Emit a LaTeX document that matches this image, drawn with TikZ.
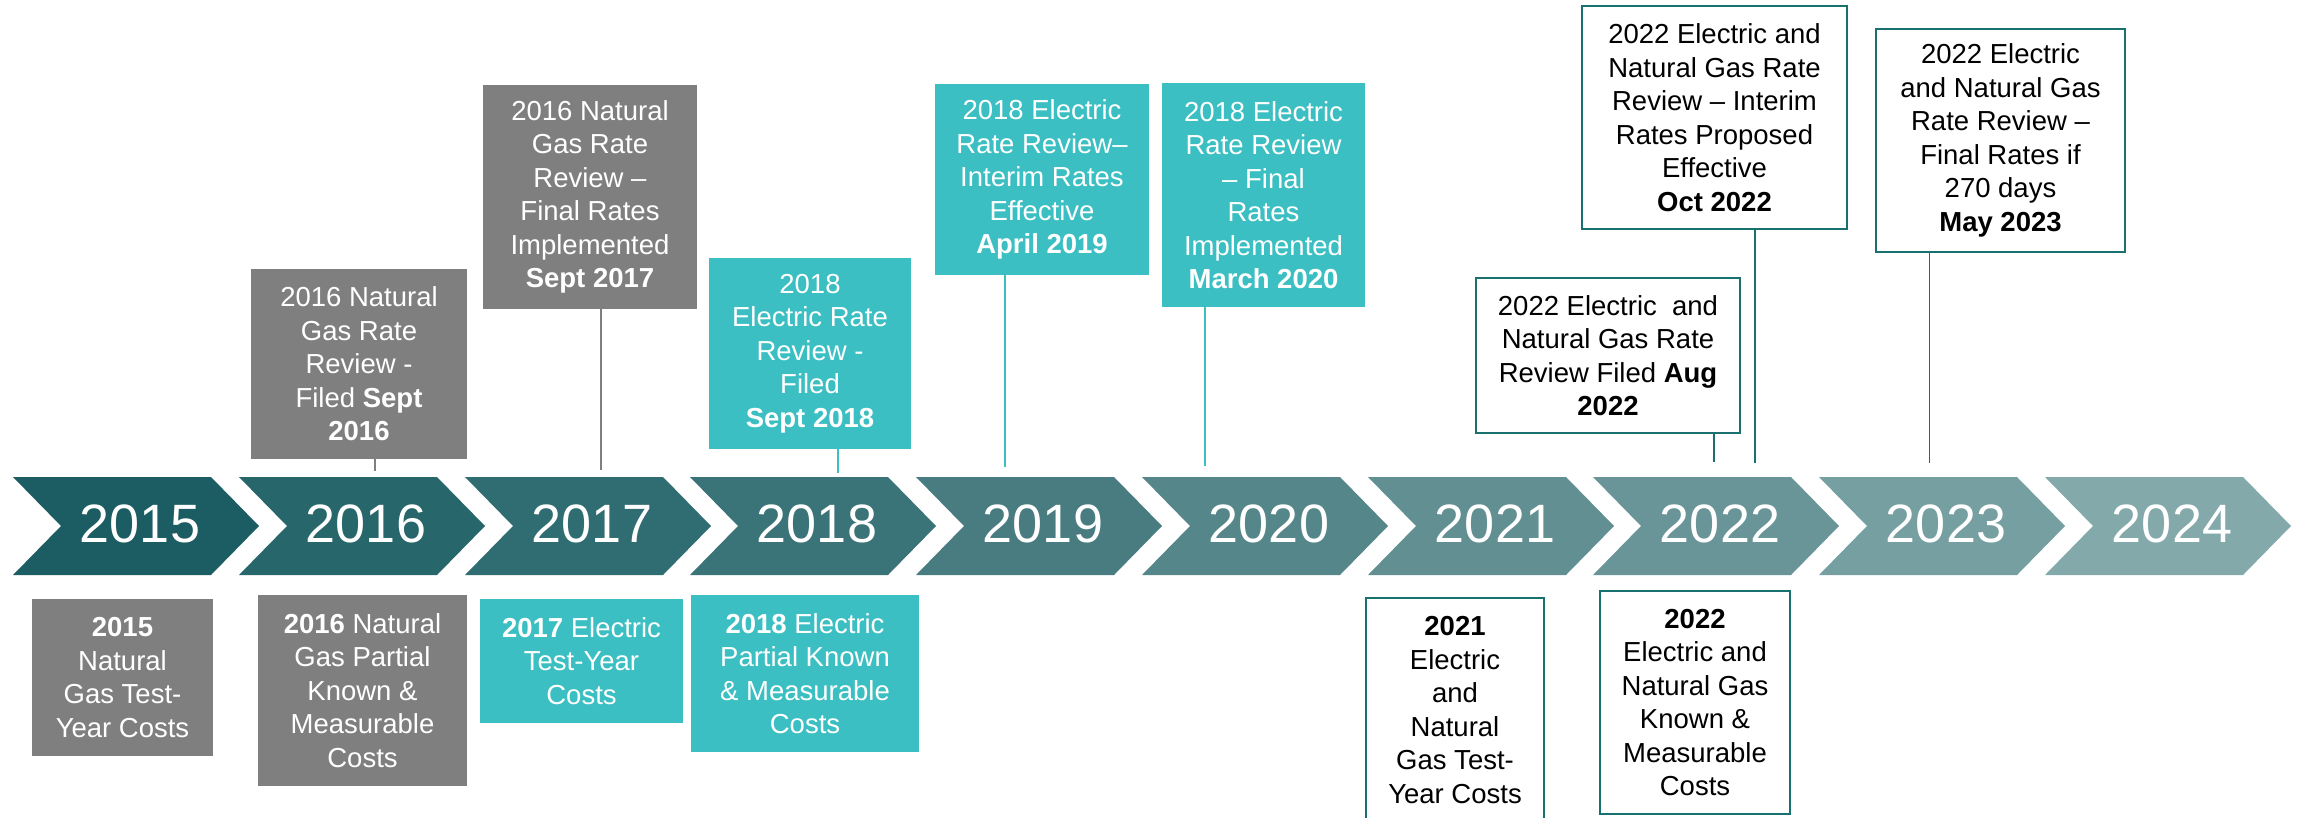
\documentclass[tikz,border=0pt]{standalone}
\usepackage{fontspec}
\setmainfont{Liberation Sans}
\definecolor{boxgray}{HTML}{7F7F7F}
\definecolor{boxteal}{HTML}{3BBFC2}
\definecolor{rimteal}{HTML}{19716F}
\definecolor{c2015}{HTML}{1B5D63}
\definecolor{c2016}{HTML}{27676C}
\definecolor{c2017}{HTML}{306D72}
\definecolor{c2018}{HTML}{3A7378}
\definecolor{c2019}{HTML}{487C81}
\definecolor{c2020}{HTML}{55868A}
\definecolor{c2021}{HTML}{618F92}
\definecolor{c2022}{HTML}{699598}
\definecolor{c2023}{HTML}{769FA1}
\definecolor{c2024}{HTML}{83A9AA}
\begin{document}
\begin{tikzpicture}[x=1pt,y=-1pt,
  txt/.style={align=center,inner sep=0pt,font=\fontsize{27.5}{33.5}\selectfont},
  graybox/.style={txt,fill=boxgray,text=white},
  tealbox/.style={txt,fill=boxteal,text=white},
  rimbox/.style={txt,draw=rimteal,line width=2pt,fill=white,text=black},
  yr/.style={text=white,font=\fontsize{54}{60}\selectfont},
  gline/.style={boxgray,line width=1.5pt},
  tline/.style={boxteal,line width=1.5pt},
  rline/.style={rimteal,line width=1.5pt}]
\useasboundingbox (0,0) rectangle (2300,817);

\fill[c2015] (13,477) -- ++(198,0) -- ++(48,49) -- ++(-48,49) -- ++(-198,0) -- ++(48,-49) -- cycle;
\fill[c2016] (239,477) -- ++(198,0) -- ++(48,49) -- ++(-48,49) -- ++(-198,0) -- ++(48,-49) -- cycle;
\fill[c2017] (465,477) -- ++(198,0) -- ++(48,49) -- ++(-48,49) -- ++(-198,0) -- ++(48,-49) -- cycle;
\fill[c2018] (690,477) -- ++(198,0) -- ++(48,49) -- ++(-48,49) -- ++(-198,0) -- ++(48,-49) -- cycle;
\fill[c2019] (916,477) -- ++(198,0) -- ++(48,49) -- ++(-48,49) -- ++(-198,0) -- ++(48,-49) -- cycle;
\fill[c2020] (1142,477) -- ++(198,0) -- ++(48,49) -- ++(-48,49) -- ++(-198,0) -- ++(48,-49) -- cycle;
\fill[c2021] (1368,477) -- ++(198,0) -- ++(48,49) -- ++(-48,49) -- ++(-198,0) -- ++(48,-49) -- cycle;
\fill[c2022] (1593,477) -- ++(198,0) -- ++(48,49) -- ++(-48,49) -- ++(-198,0) -- ++(48,-49) -- cycle;
\fill[c2023] (1819,477) -- ++(198,0) -- ++(48,49) -- ++(-48,49) -- ++(-198,0) -- ++(48,-49) -- cycle;
\fill[c2024] (2045,477) -- ++(198,0) -- ++(48,49) -- ++(-48,49) -- ++(-198,0) -- ++(48,-49) -- cycle;

\node[yr] (y2015) at (140,524) {2015};
\node[yr] (y2016) at (366,524) {2016};
\node[yr] (y2017) at (592,524) {2017};
\node[yr] (y2018) at (817,524) {2018};
\node[yr] (y2019) at (1043,524) {2019};
\node[yr] (y2020) at (1269,524) {2020};
\node[yr] (y2021) at (1495,524) {2021};
\node[yr] (y2022) at (1720,524) {2022};
\node[yr] (y2023) at (1946,524) {2023};
\node[yr] (y2024) at (2172,524) {2024};

\node[graybox,minimum width=216,minimum height=190] (gasfiled) at (359,364)
  {2016 Natural\\Gas Rate\\Review -\\Filed \textbf{Sept}\\\textbf{2016}};
\node[graybox,minimum width=214,minimum height=224] (gasfinal) at (590,197)
  {2016 Natural\\Gas Rate\\Review --\\Final Rates\\Implemented\\\textbf{Sept 2017}};
\node[tealbox,minimum width=202,minimum height=191] (elecfiled) at (810,353.5)
  {2018\\Electric Rate\\Review -\\Filed\\\textbf{Sept 2018}};
\node[tealbox,minimum width=214,minimum height=191] (elecinterim) at (1042,179.5)
  {2018 Electric\\Rate Review--\\Interim Rates\\Effective\\\textbf{April 2019}};
\node[tealbox,minimum width=203,minimum height=224] (elecfinal) at (1263.5,195)
  {2018 Electric\\Rate Review\\-- Final\\Rates\\Implemented\\\textbf{March 2020}};
\node[rimbox,minimum width=264,minimum height=155] (bothfiled) at (1608,355.5)
  {2022 Electric\ \ and\\Natural Gas Rate\\Review Filed \textbf{Aug}\\\textbf{2022}};
\node[rimbox,minimum width=265,minimum height=223] (bothinterim) at (1714.5,117.5)
  {2022 Electric and\\Natural Gas Rate\\Review -- Interim\\Rates Proposed\\Effective\\\textbf{Oct 2022}};
\node[rimbox,minimum width=249,minimum height=223] (bothfinal) at (2000.5,140.5)
  {2022 Electric\\and Natural Gas\\Rate Review --\\Final Rates if\\270 days\\\textbf{May 2023}};

\coordinate (gasfiledend) at (375,471);
\coordinate (gasfinalend) at (601,470);
\coordinate (elecfiledend) at (838,473);
\coordinate (elecinterimend) at (1005,467);
\coordinate (elecfinalend) at (1205,466);
\coordinate (bothfiledend) at (1714,462);
\coordinate (bothinterimend) at (1755,463);
\coordinate (bothfinalend) at (1929.5,463);

\draw[gline] (gasfiled.south -| gasfiledend) -- (gasfiledend);
\draw[gline] (gasfinal.south -| gasfinalend) -- (gasfinalend);
\draw[tline] (elecfiled.south -| elecfiledend) -- (elecfiledend);
\draw[tline] (elecinterim.south -| elecinterimend) -- (elecinterimend);
\draw[tline] (elecfinal.south -| elecfinalend) -- (elecfinalend);
\draw[rline] (bothfiled.south -| bothfiledend) -- (bothfiledend);
\draw[rline] (bothinterim.south -| bothinterimend) -- (bothinterimend);
\draw[rline] (bothfinal.south -| bothfinalend) -- (bothfinalend);

\node[graybox,minimum width=181,minimum height=157] (gastest) at (122.5,677.5)
  {\textbf{2015}\\Natural\\Gas Test-\\Year Costs};
\node[graybox,minimum width=209,minimum height=191] (gasknown) at (362.5,690.5)
  {\textbf{2016} Natural\\Gas Partial\\Known \&\\Measurable\\Costs};
\node[tealbox,minimum width=203,minimum height=124] (electest) at (581.5,661)
  {\textbf{2017} Electric\\Test-Year\\Costs};
\node[tealbox,minimum width=228,minimum height=157] (elecknown) at (805,673.5)
  {\textbf{2018} Electric\\Partial Known\\\& Measurable\\Costs};
\node[rimbox,minimum width=178,minimum height=224] (bothtest) at (1455,710)
  {\textbf{2021}\\Electric\\and\\Natural\\Gas Test-\\Year Costs};
\node[rimbox,minimum width=190,minimum height=223] (bothknown) at (1695,702.5)
  {\textbf{2022}\\Electric and\\Natural Gas\\Known \&\\Measurable\\Costs};
\end{tikzpicture}
\end{document}
